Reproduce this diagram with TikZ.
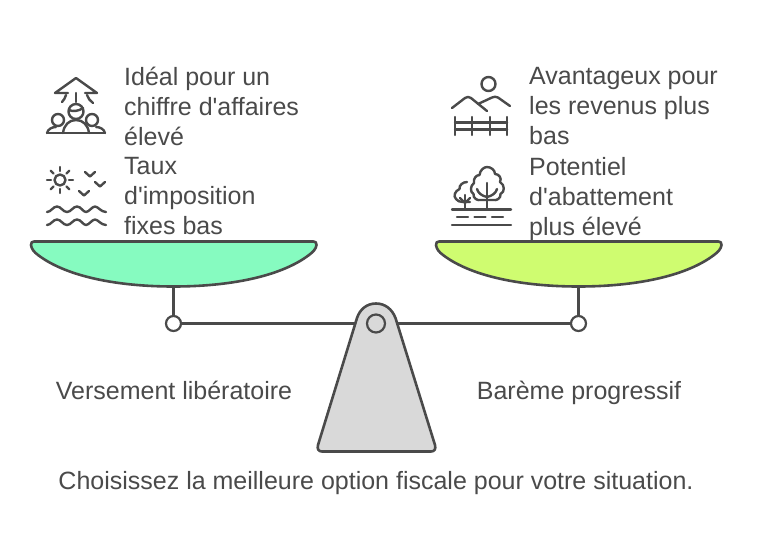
\documentclass[tikz,border=0pt]{standalone}
\usepackage{fontspec}
\setmainfont[Ligatures=TeXOff]{Liberation Sans}
\definecolor{trait}{HTML}{4A4A4A}
\definecolor{vert}{HTML}{86FBC0}
\definecolor{jaune}{HTML}{CFFC70}
\definecolor{socle}{HTML}{D9D9D9}
\tikzset{
  txt/.style={text=trait, inner sep=0pt, font=\fontsize{25}{30}\selectfont},
  bloc/.style={txt, anchor=north west, align=left},
  ligne/.style={txt, anchor=base},
  joint/.style={circle, draw=trait, line width=2.2pt, fill=white, minimum size=15pt, inner sep=0pt},
  pan/.style={draw=trait, line width=2.6pt, line join=round},
  barre/.style={draw=trait, line width=2.6pt},
  icone/.style={draw=trait, line width=2.4pt, line cap=round, line join=round}
}
\begin{document}
\begin{tikzpicture}[x=1pt, y=-1pt]
    \useasboundingbox (0,0) rectangle (768,558);

    % Plateaux
    \draw[pan, fill=vert] (31,245) .. controls (31,242.5) and (32,241.5) .. (34,241.5) -- (313.5,241.5)
        .. controls (315.5,241.5) and (316.5,242.5) .. (316.5,245) .. controls (316,249) and (313,252) .. (309,255)
        .. controls (280,277) and (228,286.5) .. (173.5,286.5) .. controls (119,286.5) and (67,277) .. (38,255)
        .. controls (34,252) and (31.5,249) .. (31,245) -- cycle;
    \draw[pan, fill=jaune] (436,245) .. controls (436,242.5) and (437,241.5) .. (439,241.5) -- (718.5,241.5)
        .. controls (720.5,241.5) and (721.5,242.5) .. (721.5,245) .. controls (721,249) and (718,252) .. (714,255)
        .. controls (685,277) and (633,286.5) .. (578.5,286.5) .. controls (524,286.5) and (472,277) .. (443,255)
        .. controls (439,252) and (436.5,249) .. (436,245) -- cycle;
    \coordinate (panL) at (173.5,286.5);
    \coordinate (panR) at (578.5,286.5);

    % Socle
    \draw[pan, fill=socle] (357,318) .. controls (360,309) and (367,303.5) .. (376,303.5)
        .. controls (385,303.5) and (392,309) .. (395.5,318) -- (435,445)
        .. controls (436,449) and (434.5,451.5) .. (431,451.5) -- (322,451.5)
        .. controls (318.5,451.5) and (317,449) .. (318,445) -- cycle;
    \coordinate (socleL) at (355,323.5);
    \coordinate (socleR) at (397,323.5);
    \node[joint, fill=socle, minimum size=18pt] (pivot) at (376,323.5) {};

    % Articulations et barres
    \node[joint] (jointL) at (173.5,323.5) {};
    \node[joint] (jointR) at (578.5,323.5) {};
    \draw[barre] (panL) -- (jointL);
    \draw[barre] (panR) -- (jointR);
    \draw[barre] (jointL) -- (socleL);
    \draw[barre] (jointR) -- (socleR);

    % Icone: fleche et personnes
    \draw[icone] (68,93) -- (55,93) -- (76,78) -- (97,93) -- (85,93);
    \draw[icone] (66,95) .. controls (65,98) and (64,100) .. (62,102);
    \draw[icone] (87,95) .. controls (88,98) and (90,101) .. (93,103);
    \draw[icone] (76,93) -- (76,102);
    \draw[icone] (76,111.5) circle (7.5);
    \draw[icone] (69,110) .. controls (73,112) and (79,111) .. (83,108);
    \draw[icone] (58,120) circle (6);
    \draw[icone] (92,120) circle (6);
    \draw[icone] (47,133) -- (105,133);
    \draw[icone] (47,133) .. controls (48,129) and (52,127) .. (56,127);
    \draw[icone] (105,133) .. controls (104,129) and (100,127) .. (96,127);
    \draw[icone] (63,133) .. controls (64,125) and (69,120) .. (76,120) .. controls (83,120) and (88,125) .. (89,133);

    % Icone: soleil, oiseaux, vagues
    \draw[icone] (60,180) circle (5.5);
    \foreach \ax/\ay in {1/0,-1/0,0/1,0/-1,.71/.71,-.71/.71,.71/-.71,-.71/-.71}
        \draw[icone] (60+9*\ax,180+9*\ay) -- (60+13*\ax,180+13*\ay);
    \foreach \bx/\by in {90/172,100/182,84/191}
        \draw[icone] (\bx-5,\by) -- (\bx,\by+4.5) -- (\bx+5,\by);
    \foreach \wy in {212,225}
        \draw[icone] (47,\wy) .. controls (51,\wy) and (53,\wy-5.5) .. (57,\wy-5.5) .. controls (61,\wy-5.5) and (63,\wy) .. (67,\wy)
            .. controls (71,\wy) and (73,\wy-5.5) .. (77,\wy-5.5) .. controls (81,\wy-5.5) and (83,\wy) .. (86,\wy)
            .. controls (89,\wy) and (92,\wy-5.5) .. (95,\wy-5.5) .. controls (98,\wy-5.5) and (101,\wy) .. (106,\wy);

    % Icone: collines et cloture
    \draw[icone] (488.5,84) circle (7);
    \draw[icone] (452,108) -- (465,98) .. controls (467,96.5) and (469,96.5) .. (471,98) -- (487,111);
    \draw[icone] (478,104) -- (492,97.5) .. controls (494,96.5) and (496,96.5) .. (498,97.5) -- (510,106);
    \foreach \px in {455,472,490,507}
        \draw[icone] (\px,117) -- (\px,135);
    \draw[icone] (455,122.5) -- (507,122.5);
    \draw[icone] (455,129.5) -- (507,129.5);

    % Icone: arbres et route
    \draw[icone] (452,209.5) -- (511,209.5);
    \draw[icone] (452,225) -- (511,225);
    \foreach \dx in {457,474.5,492}
        \draw[icone] (\dx,217) -- (\dx+11,217);
    \draw[icone] (487,183) -- (487,209.5);
    \draw[icone] (465,195) -- (465,209.5);
    \draw[icone] (477,189) .. controls (478,193) and (482,196) .. (487,197);
    \draw[icone] (497,189) .. controls (496,193) and (492,196) .. (487,197);
    \draw[icone] (460,198) -- (465,203) -- (470,198);
    \draw[icone] (481,200) .. controls (477,201) and (473,198) .. (473.5,194) .. controls (470,192) and (470,186) .. (474,183)
        .. controls (473,179) and (476,175) .. (479.5,175) .. controls (480,170) and (484,167) .. (487,167)
        .. controls (491,167) and (495,170) .. (495,174) .. controls (499,174) and (502,178) .. (500,182)
        .. controls (505,185) and (505,192) .. (500.5,194) .. controls (501,198) and (497,201) .. (493,200)
        .. controls (490,200) and (484,200) .. (481,200) -- cycle;
    \draw[icone] (467,182) .. controls (463,182) and (459,185) .. (459.5,189) .. controls (455,191) and (453,196) .. (456,199)
        .. controls (457,201) and (460,202) .. (463,202) -- (470,202);

    % Textes
    \node[bloc] (idealTxt) at (124,67) {Idéal pour un\\chiffre d'affaires\\élevé};
    \node[bloc] (tauxTxt) at (124,157) {Taux\\d'imposition\\fixes bas};
    \node[bloc] (avantTxt) at (529,67) {Avantageux pour\\les revenus plus\\bas};
    \node[bloc] (potTxt) at (529,157) {Potentiel\\d'abattement\\plus élevé};
    \node[ligne] (versTxt) at (174,399) {Versement libératoire};
    \node[ligne] (bareTxt) at (579,399) {Barème progressif};
    \node[ligne] (choixTxt) at (376,489) {Choisissez la meilleure option fiscale pour votre situation.};
\end{tikzpicture}
\end{document}
